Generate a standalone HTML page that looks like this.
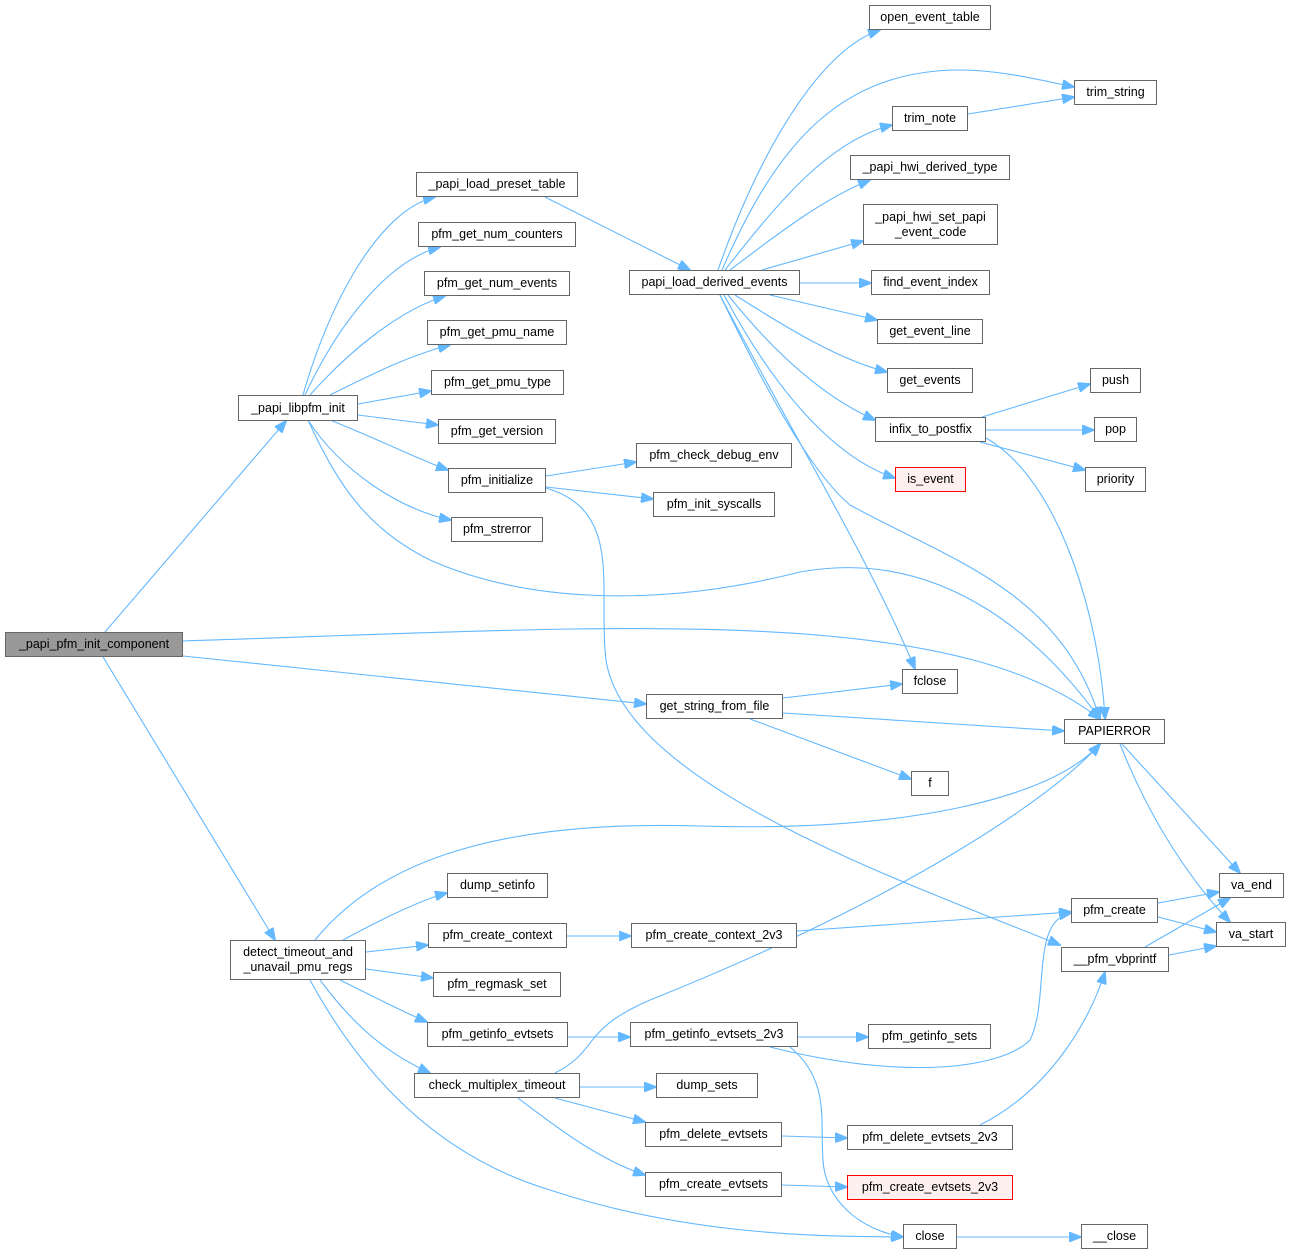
<!DOCTYPE html>
<html><head><meta charset="utf-8"><style>
body{margin:0;width:1292px;height:1256px;background:#fff;position:relative;overflow:hidden;font-family:"Liberation Sans",Arial,sans-serif;}
.b{position:absolute;box-sizing:border-box;border:1px solid #666;background:#fff;font-size:12.5px;color:#000;display:flex;align-items:center;justify-content:center;text-align:center;line-height:15px;white-space:nowrap;}
.r{border-color:#ff0000;background:#fff0f0;}
.g{background:#999;}
svg{position:absolute;left:0;top:0;}
path{fill:none;stroke:#63b8ff;stroke-width:1.1;}
</style></head><body>
<svg width="1292" height="1256">
<defs><marker id="a" markerWidth="13" markerHeight="10" refX="12" refY="5" orient="auto" markerUnits="userSpaceOnUse"><polygon points="0,0 13,5 0,10" fill="#63b8ff" stroke="#63b8ff"/></marker></defs>
<g marker-end="url(#a)">
<path d="M105,632 L286,421"/>
<path d="M183,641 C600,628 950,600 1100,719"/>
<path d="M183,656 L646,704"/>
<path d="M103,657 L275,940"/>
<path d="M303,395 C330,300 380,210 435,197"/>
<path d="M305,395 C340,320 390,260 440,247"/>
<path d="M310,395 C350,350 400,310 445,296"/>
<path d="M330,395 C370,375 410,355 450,345"/>
<path d="M358,404 L431,391"/>
<path d="M358,415 L438,425"/>
<path d="M330,420 C380,440 420,460 448,470"/>
<path d="M308,420 C340,470 400,510 451,520"/>
<path d="M308,420 C340,490 370,530 430,560 C520,600 650,610 800,572 C950,545 1050,650 1100,719"/>
<path d="M545,197 L690,270"/>
<path d="M546,476 L636,462"/>
<path d="M546,487 L653,499"/>
<path d="M546,488 C620,510 600,580 605,650 C610,780 900,880 1060,945"/>
<path d="M718,270 C760,150 820,50 880,30"/>
<path d="M722,270 C770,160 830,70 960,70 C1000,70 1040,80 1074,87"/>
<path d="M725,270 C780,200 830,140 892,125"/>
<path d="M730,270 C770,240 820,200 870,180"/>
<path d="M762,270 L863,241"/>
<path d="M800,283 L871,283"/>
<path d="M770,295 L877,320"/>
<path d="M735,295 C790,330 840,360 887,372"/>
<path d="M728,295 C780,360 830,400 875,420"/>
<path d="M724,295 C780,400 840,460 895,478"/>
<path d="M720,295 C780,420 820,480 850,505 C950,560 1060,590 1100,719"/>
<path d="M720,295 C790,430 870,560 915,669"/>
<path d="M968,114 L1074,97"/>
<path d="M982,417 L1090,384"/>
<path d="M986,430 L1094,430"/>
<path d="M980,442 L1085,470"/>
<path d="M986,438 C1060,480 1100,620 1105,719"/>
<path d="M783,698 L902,684"/>
<path d="M783,713 L1064,731"/>
<path d="M750,719 L911,779"/>
<path d="M1122,744 L1240,873"/>
<path d="M1120,744 C1150,820 1190,880 1230,922"/>
<path d="M1158,903 L1219,892"/>
<path d="M1158,917 L1216,932"/>
<path d="M1145,947 L1230,898"/>
<path d="M1169,955 L1216,946"/>
<path d="M315,940 C380,860 500,820 700,826 C900,832 1050,800 1100,744"/>
<path d="M343,940 C380,920 420,900 447,893"/>
<path d="M366,952 L428,945"/>
<path d="M366,969 L433,978"/>
<path d="M340,980 C380,1000 410,1015 427,1022"/>
<path d="M320,980 C350,1020 380,1050 430,1073"/>
<path d="M310,980 C370,1090 450,1160 550,1190 C700,1240 850,1236 903,1237"/>
<path d="M567,936 L631,936"/>
<path d="M797,931 L1071,912"/>
<path d="M568,1037 L630,1037"/>
<path d="M798,1037 L868,1037"/>
<path d="M770,1047 C900,1080 1000,1070 1030,1040 C1050,1000 1030,920 1071,913"/>
<path d="M790,1047 C830,1080 820,1120 823,1160 C825,1200 860,1230 903,1237"/>
<path d="M555,1073 C600,1050 580,1030 650,1000 C900,900 1050,800 1100,744"/>
<path d="M580,1087 L656,1087"/>
<path d="M555,1098 L645,1122"/>
<path d="M518,1098 C560,1130 600,1160 645,1175"/>
<path d="M782,1136 L847,1138"/>
<path d="M980,1125 C1050,1090 1090,1020 1105,972"/>
<path d="M782,1185 L847,1187"/>
<path d="M957,1237 L1081,1237"/>
</g></svg>
<div class="b g" style="left:5px;top:632px;width:178px;height:25px">_papi_pfm_init_component</div>
<div class="b" style="left:238px;top:395px;width:120px;height:26px">_papi_libpfm_init</div>
<div class="b" style="left:416px;top:172px;width:162px;height:25px">_papi_load_preset_table</div>
<div class="b" style="left:418px;top:222px;width:158px;height:25px">pfm_get_num_counters</div>
<div class="b" style="left:424px;top:271px;width:146px;height:25px">pfm_get_num_events</div>
<div class="b" style="left:427px;top:320px;width:140px;height:25px">pfm_get_pmu_name</div>
<div class="b" style="left:431px;top:370px;width:133px;height:25px">pfm_get_pmu_type</div>
<div class="b" style="left:438px;top:419px;width:118px;height:25px">pfm_get_version</div>
<div class="b" style="left:448px;top:468px;width:98px;height:25px">pfm_initialize</div>
<div class="b" style="left:451px;top:517px;width:92px;height:25px">pfm_strerror</div>
<div class="b" style="left:629px;top:270px;width:171px;height:25px">papi_load_derived_events</div>
<div class="b" style="left:869px;top:5px;width:122px;height:25px">open_event_table</div>
<div class="b" style="left:1074px;top:80px;width:83px;height:25px">trim_string</div>
<div class="b" style="left:892px;top:106px;width:76px;height:25px">trim_note</div>
<div class="b" style="left:850px;top:155px;width:160px;height:25px">_papi_hwi_derived_type</div>
<div class="b" style="left:863px;top:204px;width:135px;height:41px">_papi_hwi_set_papi<br>_event_code</div>
<div class="b" style="left:871px;top:270px;width:119px;height:25px">find_event_index</div>
<div class="b" style="left:877px;top:319px;width:106px;height:25px">get_event_line</div>
<div class="b" style="left:887px;top:368px;width:86px;height:25px">get_events</div>
<div class="b" style="left:875px;top:417px;width:111px;height:25px">infix_to_postfix</div>
<div class="b r" style="left:895px;top:467px;width:71px;height:25px">is_event</div>
<div class="b" style="left:1090px;top:368px;width:51px;height:25px">push</div>
<div class="b" style="left:1094px;top:417px;width:43px;height:25px">pop</div>
<div class="b" style="left:1085px;top:467px;width:61px;height:25px">priority</div>
<div class="b" style="left:636px;top:443px;width:156px;height:25px">pfm_check_debug_env</div>
<div class="b" style="left:653px;top:492px;width:122px;height:25px">pfm_init_syscalls</div>
<div class="b" style="left:902px;top:669px;width:56px;height:25px">fclose</div>
<div class="b" style="left:646px;top:694px;width:137px;height:25px">get_string_from_file</div>
<div class="b" style="left:1064px;top:719px;width:101px;height:25px">PAPIERROR</div>
<div class="b" style="left:911px;top:771px;width:38px;height:25px">f</div>
<div class="b" style="left:447px;top:873px;width:101px;height:25px">dump_setinfo</div>
<div class="b" style="left:230px;top:940px;width:136px;height:40px">detect_timeout_and<br>_unavail_pmu_regs</div>
<div class="b" style="left:428px;top:923px;width:139px;height:25px">pfm_create_context</div>
<div class="b" style="left:631px;top:923px;width:166px;height:25px">pfm_create_context_2v3</div>
<div class="b" style="left:433px;top:972px;width:128px;height:25px">pfm_regmask_set</div>
<div class="b" style="left:427px;top:1022px;width:141px;height:25px">pfm_getinfo_evtsets</div>
<div class="b" style="left:630px;top:1022px;width:168px;height:25px">pfm_getinfo_evtsets_2v3</div>
<div class="b" style="left:868px;top:1024px;width:123px;height:25px">pfm_getinfo_sets</div>
<div class="b" style="left:414px;top:1073px;width:166px;height:25px">check_multiplex_timeout</div>
<div class="b" style="left:656px;top:1073px;width:102px;height:25px">dump_sets</div>
<div class="b" style="left:645px;top:1122px;width:137px;height:25px">pfm_delete_evtsets</div>
<div class="b" style="left:847px;top:1125px;width:166px;height:25px">pfm_delete_evtsets_2v3</div>
<div class="b" style="left:645px;top:1172px;width:137px;height:25px">pfm_create_evtsets</div>
<div class="b r" style="left:847px;top:1175px;width:166px;height:25px">pfm_create_evtsets_2v3</div>
<div class="b" style="left:903px;top:1224px;width:54px;height:25px">close</div>
<div class="b" style="left:1081px;top:1224px;width:67px;height:25px">__close</div>
<div class="b" style="left:1071px;top:898px;width:87px;height:25px">pfm_create</div>
<div class="b" style="left:1061px;top:947px;width:108px;height:25px">__pfm_vbprintf</div>
<div class="b" style="left:1219px;top:873px;width:65px;height:25px">va_end</div>
<div class="b" style="left:1216px;top:922px;width:70px;height:25px">va_start</div>
</body></html>
